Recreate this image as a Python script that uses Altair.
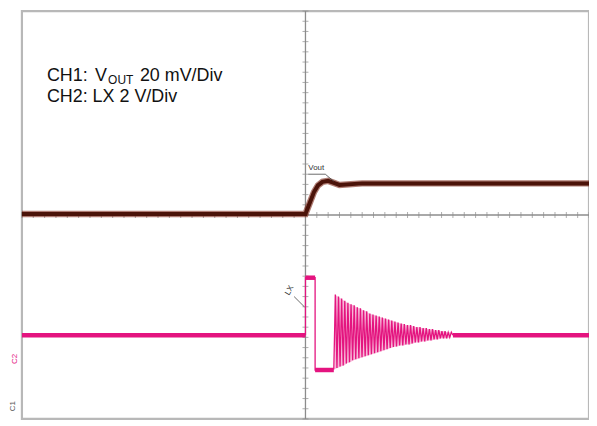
import altair as alt
import pandas as pd
import numpy as np

# ---- data (x: time in divisions 0..10, y: screen divisions 0..8) ----
vout_t = [0.0, 2.5, 5.0, 5.08, 5.15, 5.22, 5.30, 5.40, 5.50, 5.60, 6.0, 8.0, 10.0]
vout_v = [4.02, 4.02, 4.02, 4.25, 4.45, 4.58, 4.65, 4.67, 4.63, 4.59, 4.62, 4.62, 4.62]

lx_base = 1.64
lx_high = 2.77
lx_low = 0.96
lx_edge_t = [5.0, 5.17, 5.5, 7.6]  # rise, fall, ringing start, ringing end

ring_tops = [2.44, 2.40, 2.36, 2.32, 2.28, 2.25, 2.23, 2.19, 2.17, 2.13,
             2.11, 2.07, 2.05, 2.03, 2.01, 1.99, 1.97, 1.95, 1.93, 1.91,
             1.89, 1.87, 1.86, 1.84, 1.84, 1.82, 1.80, 1.80, 1.78, 1.78,
             1.76, 1.76, 1.74, 1.74, 1.72, 1.72, 1.70, 1.70]
ring_bottoms = [0.98, 1.00, 1.03, 1.05, 1.09, 1.11, 1.15, 1.17, 1.19, 1.21,
                1.23, 1.25, 1.27, 1.29, 1.31, 1.33, 1.35, 1.37, 1.39, 1.41,
                1.42, 1.44, 1.44, 1.46, 1.46, 1.48, 1.50, 1.50, 1.52, 1.52,
                1.54, 1.54, 1.56, 1.56, 1.58, 1.58, 1.58, 1.60]

grid_x = list(range(0, 11))
grid_y = list(range(0, 9))

BROWN = "#4b1309"
BROWN_HALO = "#7a2516"
PINK = "#e4147f"
FONT = "Liberation Sans"

# ---- tables ----
vout_df = pd.DataFrame({"t": vout_t, "v": vout_v})

t_rise, t_fall, t_ring0, t_ring1 = lx_edge_t
ring_period = (t_ring1 - t_ring0) / len(ring_tops)

thick_rows = [
    ("a", 0.0, lx_base), ("a", t_rise, lx_base),
    ("b", t_rise, lx_high), ("b", t_fall, lx_high),
    ("c", t_fall, lx_low), ("c", t_ring0, lx_low),
    ("d", t_ring1, lx_base), ("d", 10.0, lx_base),
]
lx_thick = pd.DataFrame(thick_rows, columns=["seg", "t", "v"])

thin_t = [t_rise, t_rise, t_fall, t_fall]
thin_v = [lx_base, lx_high, lx_high, lx_low]
env_t, env_top, env_bot = [], [], []
for i, (top, bot) in enumerate(zip(ring_tops, ring_bottoms)):
    t0 = t_ring0 + i * ring_period
    thin_t += [t0, t0 + ring_period / 2]
    thin_v += [bot, top]
    env_t.append(t0 + ring_period / 4)
    env_top.append(top)
    env_bot.append(bot)
thin_t += [t_ring1]
thin_v += [lx_base]
lx_thin = pd.DataFrame({"t": thin_t, "v": thin_v, "o": range(len(thin_t))})
env_df = pd.DataFrame({"t": env_t, "top": env_top, "bot": env_bot})

xs = alt.Scale(domain=[0, 10], nice=False, zero=False)
ys = alt.Scale(domain=[0, 8], nice=False, zero=False)

# grid
grid_layer = alt.Chart(pd.DataFrame({"t": [0], "v": [0]})).mark_point(opacity=0).encode(
    x=alt.X("t:Q", scale=xs, axis=alt.Axis(values=grid_x, grid=True, labels=False, ticks=False,
                                           domain=False, title=None, gridColor="#cfcfcf", gridWidth=1.6)),
    y=alt.Y("v:Q", scale=ys, axis=alt.Axis(values=grid_y, grid=True, labels=False, ticks=False,
                                           domain=False, title=None, gridColor="#cfcfcf", gridWidth=1.6)),
)

center_v = alt.Chart(pd.DataFrame({"t": [5]})).mark_rule(color="#8c8c8c", strokeWidth=1.3).encode(
    x=alt.X("t:Q", scale=xs, axis=None))
center_h = alt.Chart(pd.DataFrame({"v": [4]})).mark_rule(color="#8c8c8c", strokeWidth=1.3).encode(
    y=alt.Y("v:Q", scale=ys, axis=None))

minor_x = [round(v, 2) for v in np.arange(0, 10.001, 0.2)]
minor_y = [round(v, 2) for v in np.arange(0, 8.001, 0.2)]
ticks_h = alt.Chart(pd.DataFrame({"t": minor_x, "v": [4] * len(minor_x)})).mark_tick(
    orient="vertical", size=6, thickness=1, color="#8c8c8c").encode(
    x=alt.X("t:Q", scale=xs, axis=None), y=alt.Y("v:Q", scale=ys, axis=None))
ticks_v = alt.Chart(pd.DataFrame({"t": [5] * len(minor_y), "v": minor_y})).mark_tick(
    orient="horizontal", size=6, thickness=1, color="#8c8c8c").encode(
    x=alt.X("t:Q", scale=xs, axis=None), y=alt.Y("v:Q", scale=ys, axis=None))

# traces
vout_halo = alt.Chart(vout_df).mark_line(color=BROWN_HALO, strokeWidth=6.5, opacity=0.6).encode(
    x=alt.X("t:Q", scale=xs, axis=None), y=alt.Y("v:Q", scale=ys, axis=None))
vout_core = alt.Chart(vout_df).mark_line(color=BROWN, strokeWidth=4).encode(
    x=alt.X("t:Q", scale=xs, axis=None), y=alt.Y("v:Q", scale=ys, axis=None))

env_layer = alt.Chart(env_df).mark_area(color=PINK, opacity=0.3).encode(
    x=alt.X("t:Q", scale=xs, axis=None), y=alt.Y("top:Q", scale=ys, axis=None), y2="bot:Q")
lx_thin_layer = alt.Chart(lx_thin).mark_line(color=PINK, strokeWidth=1.3).encode(
    x=alt.X("t:Q", scale=xs, axis=None), y=alt.Y("v:Q", scale=ys, axis=None), order="o:Q")
lx_thick_layer = alt.Chart(lx_thick).mark_line(color=PINK, strokeWidth=4.5).encode(
    x=alt.X("t:Q", scale=xs, axis=None), y=alt.Y("v:Q", scale=ys, axis=None), detail="seg:N")

# annotations
ann = pd.DataFrame({
    "t": [0.44, 1.29, 1.52, 2.08, 0.44],
    "v": [6.62, 6.62, 6.56, 6.62, 6.21],
    "txt": ["CH1:", "V", "OUT", "20 mV/Div", "CH2: LX 2 V/Div"],
    "size": [18, 18, 12, 18, 18],
})
ann_layer = alt.Chart(ann).mark_text(align="left", baseline="alphabetic", font=FONT, color="#111111").encode(
    x=alt.X("t:Q", scale=xs, axis=None), y=alt.Y("v:Q", scale=ys, axis=None),
    text="txt:N", size=alt.Size("size:Q", scale=None, legend=None))

small = pd.DataFrame({
    "t": [5.05, -0.13, -0.15],
    "v": [4.92, 1.08, 0.15],
    "txt": ["Vout", "C2", "C1"],
    "col": ["#333333", PINK, "#555555"],
    "ang": [0, 270, 270],
})
small_layer = alt.Chart(small).mark_text(align="left", baseline="middle", font=FONT, fontSize=8).encode(
    x=alt.X("t:Q", scale=xs, axis=None), y=alt.Y("v:Q", scale=ys, axis=None),
    text="txt:N", color=alt.Color("col:N", scale=None), angle=alt.Angle("ang:Q", scale=None))

lx_lab = alt.Chart(pd.DataFrame({"t": [4.72], "v": [2.52], "txt": ["LX"]})).mark_text(
    font=FONT, fontSize=8, color="#333333", angle=300).encode(
    x=alt.X("t:Q", scale=xs, axis=None), y=alt.Y("v:Q", scale=ys, axis=None), text="txt:N")

pointers = pd.DataFrame({
    "t": [5.05, 5.35, 4.8], "v": [4.8, 4.8, 2.4],
    "t2": [5.35, 5.5, 4.98], "v2": [4.8, 4.66, 2.2],
})
ptr_layer = alt.Chart(pointers).mark_rule(color="#444444", strokeWidth=0.8).encode(
    x=alt.X("t:Q", scale=xs, axis=None), y=alt.Y("v:Q", scale=ys, axis=None),
    x2="t2:Q", y2="v2:Q")

chart = alt.layer(
    grid_layer, center_v, center_h, ticks_h, ticks_v,
    vout_halo, vout_core, env_layer, lx_thin_layer, lx_thick_layer,
    ann_layer, small_layer, lx_lab, ptr_layer,
).properties(
    width=570, height=410,
    autosize=alt.AutoSizeParams(type="none"),
    padding={"left": 14, "top": 2, "right": 0, "bottom": 2},
).configure_view(stroke="#b8b8b8", strokeWidth=2.2)

chart.save("out.html", embed_options={"renderer": "svg", "actions": False})
